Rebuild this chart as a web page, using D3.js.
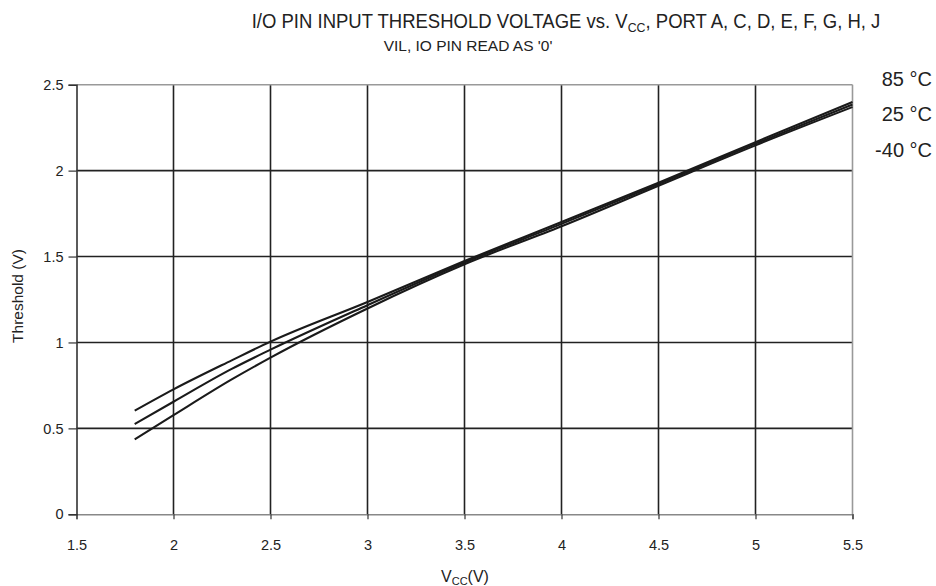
<!DOCTYPE html>
<html><head><meta charset="utf-8">
<script src="https://cdn.jsdelivr.net/npm/d3@7"></script>
<style>body{margin:0;background:#fff}svg{display:block;font-family:"Liberation Sans",Arial,sans-serif}</style>
</head><body><svg id="c" width="936" height="586"></svg>
<script>
const vcc = [1.8, 2.0, 2.3, 2.5, 3.0, 3.5, 4.0, 4.5, 5.0, 5.5];
const t85 = [0.603, 0.727, 0.896, 1.005, 1.236, 1.474, 1.701, 1.930, 2.166, 2.399];
const t25 = [0.525, 0.655, 0.846, 0.958, 1.217, 1.465, 1.690, 1.922, 2.157, 2.385];
const tm40 = [0.436, 0.577, 0.785, 0.912, 1.198, 1.455, 1.676, 1.912, 2.147, 2.370];
const seriesNames = ["85 °C", "25 °C", "-40 °C"];
const xTicks = [1.5, 2, 2.5, 3, 3.5, 4, 4.5, 5, 5.5];
const yTicks = [0, 0.5, 1, 1.5, 2, 2.5];

const svg = d3.select("#c");
const x = d3.scaleLinear().domain([1.5, 5.5]).range([76.5, 852.5]);
const y = d3.scaleLinear().domain([0, 2.5]).range([514.3, 84.7]);

// gridlines
svg.append("g").selectAll("line").data(xTicks.slice(1, -1)).join("line")
  .attr("x1", d => x(d)).attr("x2", d => x(d)).attr("y1", y(0)).attr("y2", y(2.5))
  .attr("stroke", "#222").attr("stroke-width", 1.6);
svg.append("g").selectAll("line").data(yTicks.slice(1, -1)).join("line")
  .attr("x1", x(1.5)).attr("x2", x(5.5)).attr("y1", d => y(d)).attr("y2", d => y(d))
  .attr("stroke", "#222").attr("stroke-width", 1.6);
svg.append("line").attr("x1", x(1.5)).attr("x2", x(5.5)).attr("y1", y(2.5)).attr("y2", y(2.5)).attr("stroke", "#999").attr("stroke-width", 1.6);
svg.append("line").attr("x1", x(5.5)).attr("x2", x(5.5)).attr("y1", y(2.5)).attr("y2", y(0)).attr("stroke", "#999").attr("stroke-width", 1.6);

// axes
const xAxis = svg.append("g").attr("transform", `translate(0,${y(0)})`)
  .call(d3.axisBottom(x).tickValues(xTicks).tickFormat(d3.format("")).tickSize(5).tickPadding(20));
const yAxis = svg.append("g").attr("transform", `translate(${x(1.5)},0)`)
  .call(d3.axisLeft(y).tickValues(yTicks).tickFormat(d3.format("")).tickSize(8).tickPadding(5));
xAxis.select(".domain").attr("stroke", "#888").attr("stroke-width", 1.6);
yAxis.select(".domain").attr("stroke", "#333").attr("stroke-width", 1.6);
[xAxis, yAxis].forEach(a => {
  a.selectAll(".tick line").attr("stroke", "#333").attr("stroke-width", 1.2);
  a.selectAll(".tick text").attr("font-size", 14.5).attr("fill", "#222").attr("font-family", "Liberation Sans, Arial, sans-serif");
});

// curves
const line = d3.line().x((d, i) => x(vcc[i])).y(d => y(d)).curve(d3.curveMonotoneX);
[t85, t25, tm40].forEach(s => {
  svg.append("path").attr("d", line(s)).attr("fill", "none").attr("stroke", "#1a1a1a").attr("stroke-width", 2.1);
});

// legend labels
svg.append("g").selectAll("text").data(seriesNames).join("text")
  .attr("x", 932).attr("y", (d, i) => 85.5 + i * 35.7).attr("text-anchor", "end")
  .attr("font-size", 20).attr("fill", "#222").text(d => d);

// title
const title = svg.append("text").attr("transform", "translate(566,28) scale(0.95,1)").attr("text-anchor", "middle").attr("font-size", 19.5).attr("fill", "#222");
title.append("tspan").text("I/O PIN INPUT THRESHOLD VOLTAGE vs. V");
title.append("tspan").attr("font-size", 13).attr("dy", 4).text("CC");
title.append("tspan").attr("dy", -4).text(", PORT A, C, D, E, F, G, H, J");
svg.append("text").attr("x", 468).attr("y", 50.5).attr("text-anchor", "middle").attr("font-size", 15.5).attr("fill", "#222")
  .text("VIL, IO PIN READ AS '0'");

// axis titles
const xl = svg.append("text").attr("x", 465).attr("y", 582).attr("text-anchor", "middle").attr("font-size", 16).attr("fill", "#222");
xl.append("tspan").text("V");
xl.append("tspan").attr("font-size", 11).attr("dy", 3).text("CC");
xl.append("tspan").attr("dy", -3).text("(V)");
svg.append("text").attr("transform", "translate(23,296) rotate(-90)").attr("text-anchor", "middle")
  .attr("font-size", 15.5).attr("fill", "#222").text("Threshold (V)");
</script></body></html>
